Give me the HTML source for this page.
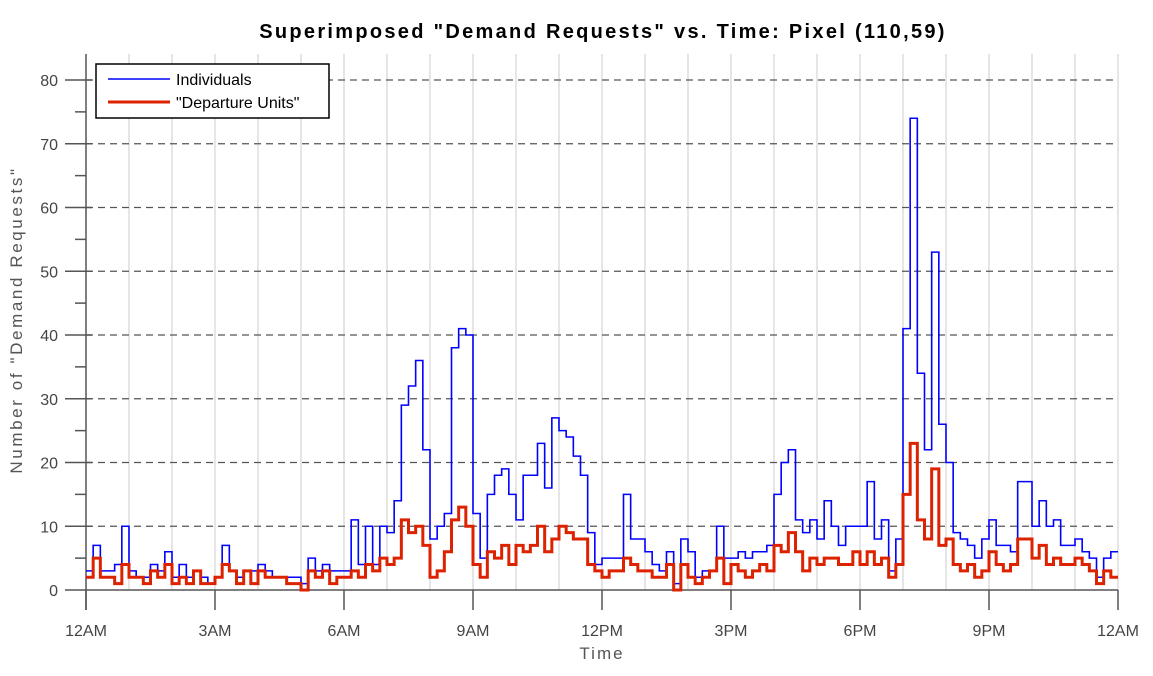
<!DOCTYPE html>
<html><head><meta charset="utf-8"><style>
html,body{margin:0;padding:0;background:#fff;}
svg text{font-family:"Liberation Sans",sans-serif;}
</style></head><body>
<svg id="chart" width="1153" height="671" xmlns="http://www.w3.org/2000/svg">
<rect width="1153" height="671" fill="#fff"/>
<text x="603" y="38" text-anchor="middle" font-size="20" font-weight="bold" letter-spacing="2.3" fill="#000">Superimposed "Demand Requests" vs. Time: Pixel (110,59)</text>
<g id="grid"></g>
<g id="axes"></g>
<g id="series"></g>
<text x="602" y="659" text-anchor="middle" font-size="17" fill="#555" letter-spacing="2">Time</text>
<text transform="translate(22,320) rotate(-90)" text-anchor="middle" font-size="17" fill="#555" letter-spacing="2.6">Number of "Demand Requests"</text>
<g>
<rect x="96" y="64" width="233" height="54" fill="#fff" stroke="#000" stroke-width="1.5"/>
<line x1="108" y1="79" x2="170" y2="79" stroke="#0000ff" stroke-width="1.5"/>
<text x="176" y="85" font-size="16" fill="#000">Individuals</text>
<line x1="108" y1="102" x2="170" y2="102" stroke="#dd2200" stroke-width="3"/>
<text x="176" y="108" font-size="16" fill="#000">"Departure Units"</text>
</g>
</svg>
<script>
const individuals=[3,7,3,3,4,10,3,2,2,4,3,6,2,4,2,3,2,1,2,7,3,2,3,3,4,3,2,2,2,2,1,5,3,4,3,3,3,11,4,10,4,10,9,14,29,32,36,22,8,10,12,38,41,40,12,5,15,18,19,15,11,18,18,23,16,27,25,24,21,18,9,4,5,5,5,15,8,8,6,4,3,6,1,8,6,2,3,3,10,5,5,6,5,6,6,7,15,20,22,11,9,11,8,14,10,7,10,10,10,17,8,11,3,8,41,74,34,22,53,26,20,9,8,7,5,8,11,7,7,6,17,17,10,14,10,11,7,7,8,6,5,2,5,6];
const departureUnits=[2,5,2,2,1,4,2,2,1,3,2,4,1,2,1,3,1,1,2,4,3,1,3,1,3,2,2,2,1,1,0,3,2,3,1,2,2,3,2,4,3,5,4,5,11,9,10,7,2,3,6,11,13,10,4,2,6,5,7,4,7,6,7,10,6,8,10,9,8,8,4,3,2,3,3,5,4,3,3,2,2,4,0,4,2,1,2,3,5,1,4,3,2,3,4,3,7,6,9,6,3,5,4,5,5,4,4,6,4,6,4,5,2,4,15,23,11,8,19,7,8,4,3,4,2,3,6,4,3,4,8,8,5,7,4,5,4,4,5,4,3,1,3,2];
const yTicks=[0,10,20,30,40,50,60,70,80];
const xTickLabels=["12AM","3AM","6AM","9AM","12PM","3PM","6PM","9PM","12AM"];
const X0=86,X1=1118,Y0=590,Y80=80,TOP=54;
const nBins=individuals.length;
const xs=i=>X0+(X1-X0)*i/nBins;
const ys=v=>Y0-(Y0-Y80)*v/80;
const NS="http://www.w3.org/2000/svg";
function mk(tag,attrs,parent){const e=document.createElementNS(NS,tag);for(const k in attrs)e.setAttribute(k,attrs[k]);parent.appendChild(e);return e;}
const grid=document.getElementById('grid'),axes=document.getElementById('axes'),series=document.getElementById('series');
for(let h=1;h<=24;h++){const x=X0+(X1-X0)*h/24;
const l=mk('line',{x1:x,y1:TOP,x2:x,y2:Y0,stroke:'#d4d4d4','stroke-width':1.2},grid);

}
yTicks.forEach(v=>{if(v===0)return;const y=ys(v);
const l=mk('line',{x1:X0,y1:y,x2:X1,y2:y,stroke:'#555','stroke-width':1.2,'stroke-dasharray':'7,5'},grid);

});
const ya=mk('line',{x1:X0,y1:TOP,x2:X0,y2:610,stroke:'#555','stroke-width':1.5},axes);


const xa=mk('line',{x1:65,y1:Y0,x2:X1,y2:Y0,stroke:'#555','stroke-width':1.5},axes);


for(let v=5;v<=80;v+=5){const y=ys(v);const major=v%10===0;
const t=mk('line',{x1:major?65:75,y1:y,x2:major?92:86,y2:y,stroke:'#555','stroke-width':1.5},axes);

}
yTicks.forEach(v=>{const t=mk('text',{x:58,y:ys(v)+6,'text-anchor':'end','font-size':16,fill:'#444'},axes);t.textContent=v;

});
xTickLabels.forEach((s,i)=>{const x=X0+(X1-X0)*i/8;
const t=mk('line',{x1:x,y1:Y0,x2:x,y2:610,stroke:'#555','stroke-width':1.5},axes);


const tx=mk('text',{x:x,y:636,'text-anchor':'middle','font-size':16,fill:'#444'},axes);tx.textContent=s;

});
function stepPath(arr){let d='';arr.forEach((v,i)=>{const y=ys(v);d+=(i===0?'M':'L')+xs(i)+','+y+'L'+xs(i+1)+','+y;});return d;}
const p1=mk('path',{d:stepPath(individuals),fill:'none',stroke:'#0000ff','stroke-width':1.6},series);


const p2=mk('path',{d:stepPath(departureUnits),fill:'none',stroke:'#dd2200','stroke-width':3},series);


</script>
</body></html>
